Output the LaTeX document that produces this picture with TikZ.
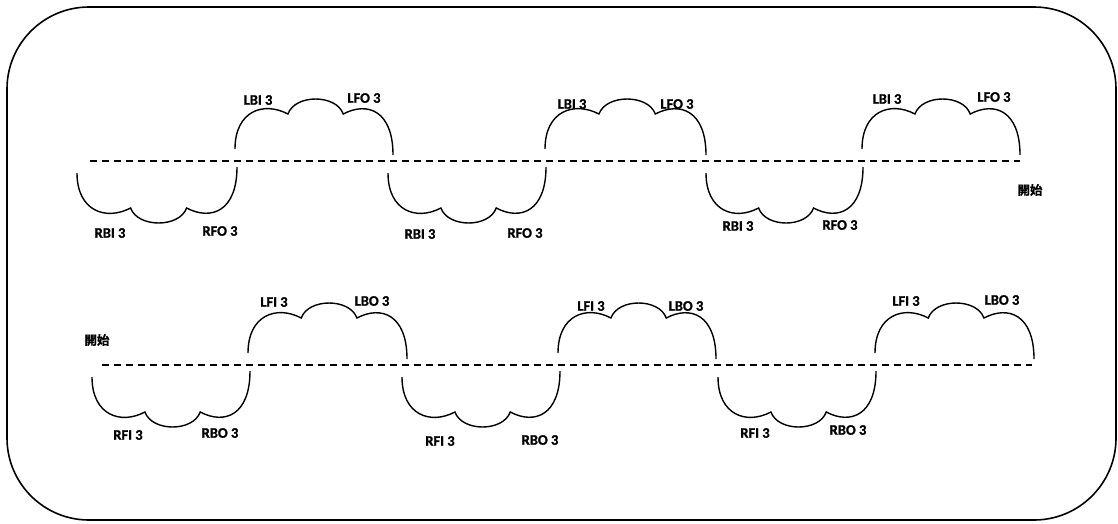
\documentclass[tikz,border=0pt]{standalone}
\usepackage{fontspec}
\setmainfont{Carlito}
\newfontfamily\lblfont{Carlito Bold}[FakeBold=1.2]
\newfontfamily\cjk{Noto Sans CJK SC Bold}[FakeBold=1.2]
\newcommand{\mycloud}[4]{%
 \pgfmathsetmacro{\cw}{#2-#1}%
 \pgfmathsetmacro{\cd}{#4}%
 \draw[cloudline] ({#1}, {#3-\cd*12}) .. controls ({#1}, {#3-\cd*50}) and ({#1+0.18*\cw}, {#3-\cd*60}) .. ({#1+0.335*\cw}, {#3-\cd*47})
 .. controls ({#1+0.38*\cw}, {#3-\cd*67}) and ({#1+0.64*\cw}, {#3-\cd*67}) .. ({#1+0.685*\cw}, {#3-\cd*47})
 .. controls ({#1+0.84*\cw}, {#3-\cd*60}) and ({#2}, {#3-\cd*50}) .. ({#2}, {#3-\cd*6});
}
\begin{document}
\begin{tikzpicture}[x=1pt,y=-1pt,
  cloudline/.style={line width=1.4pt, black},
  dashline/.style={line width=1.6pt, dash pattern=on 7pt off 5pt},
  lbl/.style={font=\lblfont\fontsize{14.5}{16}\selectfont, inner sep=0pt},
  startlbl/.style={font=\cjk\fontsize{12.5}{14}\selectfont, inner sep=0pt}]
\useasboundingbox (0,0) rectangle (1118,523);
\draw[line width=1.6pt, rounded corners=82pt] (7,7) rectangle (1116,520);
% row 1
\coordinate (l1a) at (90,161); \coordinate (l1b) at (1020,161);
\draw[dashline] (l1a) -- (l1b);
\mycloud{77}{237}{161}{-1}
\mycloud{235}{393}{161}{1}
\mycloud{388}{546}{161}{-1}
\mycloud{545}{706}{161}{1}
\mycloud{706}{863}{161}{-1}
\mycloud{862}{1020}{161}{1}
\node[lbl] (a1) at (110,233) {RBI 3};
\node[lbl] (a2) at (220,231) {RFO 3};
\node[lbl] (a3) at (258,100) {LBI 3};
\node[lbl] (a4) at (364,98) {LFO 3};
\node[lbl] (a5) at (420,234) {RBI 3};
\node[lbl] (a6) at (525,233) {RFO 3};
\node[lbl] (a7) at (572,104) {LBI 3};
\node[lbl] (a8) at (677,104) {LFO 3};
\node[lbl] (a9) at (738,226) {RBI 3};
\node[lbl] (a10) at (840,225) {RFO 3};
\node[lbl] (a11) at (887,99) {LBI 3};
\node[lbl] (a12) at (994,97) {LFO 3};
\node[startlbl] (s1) at (1030,190) {開始};
% row 2
\coordinate (l2a) at (102,365); \coordinate (l2b) at (1032,365);
\draw[dashline] (l2a) -- (l2b);
\mycloud{92}{250}{365}{-1}
\mycloud{248}{407}{365}{1}
\mycloud{402}{560}{365}{-1}
\mycloud{558}{716}{365}{1}
\mycloud{718}{876}{365}{-1}
\mycloud{875}{1034}{365}{1}
\node[lbl] (b1) at (128,435) {RFI 3};
\node[lbl] (b2) at (220,433) {RBO 3};
\node[lbl] (b3) at (274,302) {LFI 3};
\node[lbl] (b4) at (372,301) {LBO 3};
\node[lbl] (b5) at (440,441) {RFI 3};
\node[lbl] (b6) at (540,440) {RBO 3};
\node[lbl] (b7) at (591,306) {LFI 3};
\node[lbl] (b8) at (686,306) {LBO 3};
\node[lbl] (b9) at (755,433) {RFI 3};
\node[lbl] (b10) at (848,430) {RBO 3};
\node[lbl] (b11) at (906,301) {LFI 3};
\node[lbl] (b12) at (1002,300) {LBO 3};
\node[startlbl] (s2) at (97,340) {開始};
\end{tikzpicture}
\end{document}
